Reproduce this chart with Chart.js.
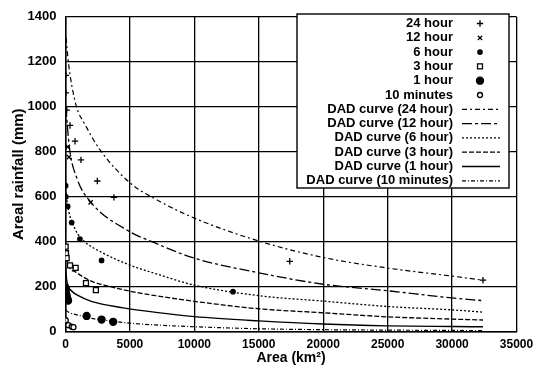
<!DOCTYPE html>
<html><head><meta charset="utf-8">
<script src="https://cdn.jsdelivr.net/npm/chart.js@4/dist/chart.umd.min.js"></script>
<style>html,body{margin:0;padding:0;background:#fff}#wrap{width:549px;height:370px}</style>
</head><body><div id="wrap"><canvas id="c" width="549" height="370"></canvas></div>
<script>
// Tick settings
const xTicksMax = 35000, xTickStep = 5000;
const yTicksMax = 1400, yTickStep = 200;

// Observed points
const area24 = [30, 30, 100, 350, 740, 1200, 2470, 3760, 17400, 32400];
const rain24 = [1140, 1062, 985, 917, 847, 764, 670, 597, 313, 229];
const area12 = [170, 270, 1950];
const rain12 = [822, 776, 575];
const area6 = [10, 30, 170, 480, 1120, 2800, 13000];
const rain6 = [649, 600, 557, 485, 412, 317, 178];
const area3 = [10, 40, 90, 350, 790, 1590, 2360];
const rain3 = [378, 349, 327, 295, 284, 216, 185];
const area1 = [10, 20, 30, 50, 80, 120, 150, 200, 1640, 2800, 3700];
const rain1 = [195, 185, 175, 168, 160, 152, 145, 138, 70, 54, 44];
const area10 = [20, 220, 480, 620];
const rain10 = [51, 29, 22, 20];

// DAD curves
const dadArea24 = [50, 220, 800, 1500, 2700, 5000, 7000, 10000, 15000, 20000, 25000, 30000, 32400];
const dadRain24 = [1305, 1200, 1011, 923, 807, 662, 589, 505, 403, 330, 283, 247, 229];
const dadArea12 = [30, 300, 900, 1900, 5000, 6500, 10000, 15000, 20000, 25000, 30000, 32400];
const dadRain12 = [1000, 820, 680, 580, 444, 405, 327, 262, 211, 182, 150, 138];
const dadArea6 = [30, 200, 800, 1500, 2900, 5000, 7000, 10000, 15000, 20000, 25000, 30000, 32400];
const dadRain6 = [620, 550, 450, 400, 350, 296, 258, 207, 160, 136, 112, 97, 87];
const dadArea3 = [20, 200, 800, 2000, 3500, 5000, 7000, 10000, 15000, 20000, 25000, 30000, 32400];
const dadRain3 = [360, 300, 265, 225, 200, 180, 160, 135, 102, 84, 66, 56, 52];
const dadArea1 = [20, 90, 500, 1000, 2000, 4500, 7000, 10000, 15000, 20000, 25000, 30000, 32400];
const dadRain1 = [280, 230, 180, 160, 135, 106, 86, 67, 48, 34, 26, 23, 22];
const dadArea10 = [30, 300, 1100, 2150, 3500, 5000, 7000, 10000, 15000, 20000, 25000, 32400];
const dadRain10 = [95, 85, 72, 58, 48, 38, 30, 22, 13, 9, 7, 5];

const labels = ["24 hour","12 hour","6 hour","3 hour","1 hour","10 minutes",
  "DAD curve (24 hour)","DAD curve (12 hour)","DAD curve (6 hour)","DAD curve (3 hour)","DAD curve (1 hour)","DAD curve (10 minutes)"];

const pts = (a, r) => a.map((x, i) => ({x: x, y: r[i]}));
const FONT = "'Liberation Sans', Arial, sans-serif";

function pointSet(label, a, r, style, radius, fill) {
  return {label, data: pts(a, r), showLine: false, pointStyle: style, pointRadius: radius,
    pointBorderColor: '#000', pointBackgroundColor: fill, pointBorderWidth: 1.3};
}
function lineSet(label, a, r, dash, w) {
  return {label, data: pts(a, r), showLine: true, pointRadius: 0, borderColor: '#000',
    borderWidth: w, borderDash: dash, fill: false, cubicInterpolationMode: 'monotone'};
}

const datasets = [
  pointSet(labels[0], area24, rain24, 'cross', 3.2, '#000'),
  pointSet(labels[1], area12, rain12, 'crossRot', 3, '#000'),
  pointSet(labels[2], area6, rain6, 'circle', 2.2, '#000'),
  pointSet(labels[3], area3, rain3, 'rect', 3.5, '#fff'),
  pointSet(labels[4], area1, rain1, 'circle', 3.5, '#000'),
  pointSet(labels[5], area10, rain10, 'circle', 2.5, '#fff'),
  lineSet(labels[6], dadArea24, dadRain24, [5, 3, 2, 3], 1.2),
  lineSet(labels[7], dadArea12, dadRain12, [10, 3, 3, 3], 1.3),
  lineSet(labels[8], dadArea6, dadRain6, [2, 2], 1.3),
  lineSet(labels[9], dadArea3, dadRain3, [5, 2], 1.3),
  lineSet(labels[10], dadArea1, dadRain1, [], 1.4),
  lineSet(labels[11], dadArea10, dadRain10, [4, 2, 1, 2], 1.2),
];

const legendPlugin = {
  id: 'boxLegend',
  afterDatasetsDraw(chart) {
    const ctx = chart.ctx;
    const L = 297, T = 14, R = 509, B = 188;
    ctx.save();
    ctx.fillStyle = '#fff';
    ctx.fillRect(L, T, R - L, B - T);
    ctx.strokeStyle = '#000'; ctx.lineWidth = 1.4;
    ctx.strokeRect(L, T, R - L, B - T);
    ctx.font = "bold 13px " + FONT;
    ctx.textAlign = 'right'; ctx.textBaseline = 'middle';
    chart.data.datasets.forEach((ds, i) => {
      const y = 23.5 + i * 14.3;
      ctx.fillStyle = '#000';
      ctx.fillText(ds.label, 453, y);
      ctx.strokeStyle = '#000';
      if (ds.showLine) {
        ctx.beginPath();
        ctx.setLineDash(ds.borderDash || []);
        ctx.lineWidth = ds.borderWidth;
        ctx.moveTo(462, y); ctx.lineTo(500, y); ctx.stroke();
        ctx.setLineDash([]);
      } else {
        ctx.fillStyle = ds.pointBackgroundColor;
        ctx.lineWidth = ds.pointBorderWidth;
        Chart.helpers.drawPoint(ctx, {pointStyle: ds.pointStyle, radius: ds.pointRadius, borderWidth: ds.pointBorderWidth, rotation: 0}, 480, y);
      }
    });
    ctx.restore();
  }
};

new Chart(document.getElementById('c'), {
  type: 'scatter',
  data: {datasets},
  plugins: [legendPlugin],
  options: {
    responsive: false, animation: false,
    layout: {padding: {left: 0, top: 11, right: 32.5, bottom: 3}},
    plugins: {legend: {display: false}, tooltip: {enabled: false}},
    scales: {
      x: {
        type: 'linear', min: 0, max: xTicksMax,
        ticks: {stepSize: xTickStep, color: '#000', padding: 6, maxRotation: 0,
          font: {family: FONT, size: 12, weight: 'bold'}, callback: v => String(v)},
        grid: {color: '#000', lineWidth: 1.3, drawTicks: false},
        border: {color: '#000', width: 1.5},
        title: {display: true, text: 'Area (km²)', color: '#000', padding: {top: 2, bottom: 0}, font: {family: FONT, size: 14, weight: 'bold'}},
        afterFit(s) { s.height = 35.3; }
      },
      y: {
        type: 'linear', min: 0, max: yTicksMax,
        ticks: {stepSize: yTickStep, color: '#000', padding: 9,
          font: {family: FONT, size: 13, weight: 'bold'}, callback: v => String(v)},
        grid: {color: '#000', lineWidth: 1.3, drawTicks: false},
        border: {color: '#000', width: 1.5},
        title: {display: true, text: 'Areal rainfall (mm)', color: '#000', padding: {top: 10, bottom: 0}, font: {family: FONT, size: 15, weight: 'bold'}},
        afterFit(s) { s.width = 65.5; }
      }
    }
  }
});
</script>
</body></html>
